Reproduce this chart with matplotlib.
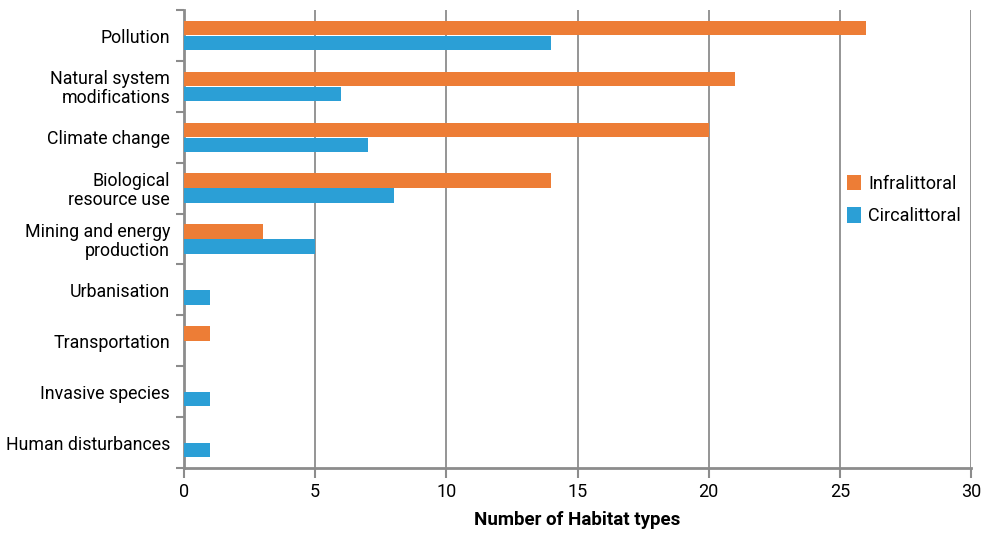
import matplotlib.pyplot as plt
import numpy as np

plt.rcParams['font.family'] = ['Roboto', 'DejaVu Sans']

categories = ['Pollution', 'Natural system\nmodifications', 'Climate change',
              'Biological\nresource use', 'Mining and energy\nproduction',
              'Urbanisation', 'Transportation', 'Invasive species',
              'Human disturbances']
infralittoral = [26, 21, 20, 14, 3, 0, 1, 0, 0]
circalittoral = [14, 6, 7, 8, 5, 1, 0, 1, 1]

orange = '#ED7D36'
blue = '#2B9FD6'
grey = '#8C8C8C'

fig = plt.figure(figsize=(9.81, 5.33), dpi=100)
ax = fig.add_axes([0.1876, 0.122, 0.8022, 0.859])

y = np.arange(len(categories))
h = 0.285
ax.barh(y - h / 2 - 0.005, infralittoral, height=h, color=orange, label='Infralittoral', zorder=3)
ax.barh(y + h / 2 + 0.005, circalittoral, height=h, color=blue, label='Circalittoral', zorder=3)

ax.set_xlim(0, 30)
ax.set_ylim(len(categories) - 0.5, -0.5)
ax.set_xticks(range(0, 31, 5))
ax.set_yticks(y)
ax.set_yticklabels(categories, fontsize=12.8, linespacing=1.05)
ax.set_yticks(np.arange(-0.5, len(categories)), minor=True)
ax.tick_params(axis='y', which='major', length=0, pad=10)
ax.tick_params(axis='y', which='minor', length=6, width=1.5, color=grey)
ax.tick_params(axis='x', length=7, width=1.5, color=grey, labelsize=13, pad=4)

ax.grid(axis='x', color=grey, linewidth=1.3, zorder=0)
for s in ['top', 'right']:
    ax.spines[s].set_visible(False)
for s in ['left', 'bottom']:
    ax.spines[s].set_color(grey)
    ax.spines[s].set_linewidth(2)

ax.set_xlabel('Number of Habitat types', fontsize=13.5, fontweight='bold', labelpad=7)

ax.legend(loc='center right', bbox_to_anchor=(1.008, 0.585), frameon=False,
          fontsize=13, handlelength=0.8, handleheight=0.95, handletextpad=0.4,
          labelspacing=0.8)

fig.savefig('out.png', dpi=100)
